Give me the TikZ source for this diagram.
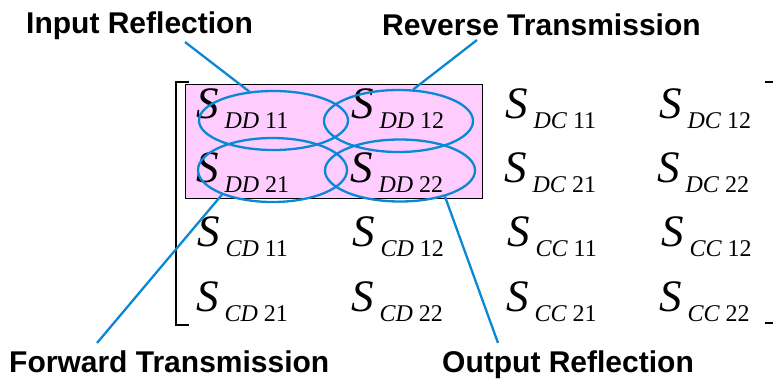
\documentclass[tikz,border=0pt]{standalone}
\usepackage{fontspec}
\setmainfont{Liberation Serif}
\newfontfamily\labfont{Liberation Sans}
\usetikzlibrary{shapes.geometric}
\definecolor{linkblue}{RGB}{10,136,212}
\definecolor{boxpink}{RGB}{255,204,255}
\newcommand\Sent[2]{{\fontsize{45}{45}\selectfont\itshape S}\kern6pt\raisebox{-10.5pt}{\fontsize{24}{24}\selectfont\textit{#1}\ #2}}
\tikzset{
  entry/.style={anchor=base west,inner sep=0pt,outer sep=0pt},
  lab/.style={anchor=base west,inner sep=0pt,font=\labfont\bfseries\fontsize{30}{36}\selectfont},
  ring/.style={ellipse,draw=linkblue,line width=2.3pt,inner sep=0pt},
  link/.style={draw=linkblue,line width=2.3pt},
  brack/.style={draw=black,line width=1.3pt}
}
\begin{document}
\begin{tikzpicture}[x=1pt,y=-1pt]
\useasboundingbox (0,0) rectangle (773,378);
% pink block
\node[draw=black,fill=boxpink,line width=0.9pt,inner sep=0pt,minimum width=297pt,minimum height=114pt,anchor=north west] (blk) at (185,84) {};
% brackets
\draw[brack] (189,82) -- (176,82) -- (176,325) -- (189,325);
\draw[brack] (765,82) -- (773,82);
\draw[brack] (765,323) -- (773,323);
% entries
\node[entry] (s11) at (196,118) {\Sent{DD}{11}};
\node[entry] (s12) at (351,118) {\Sent{DD}{12}};
\node[entry] (s13) at (505,118) {\Sent{DC}{11}};
\node[entry] (s14) at (659,118) {\Sent{DC}{12}};
\node[entry] (s21) at (196,182) {\Sent{DD}{21}};
\node[entry] (s22) at (350,182) {\Sent{DD}{22}};
\node[entry] (s23) at (504,182) {\Sent{DC}{21}};
\node[entry] (s24) at (657,182) {\Sent{DC}{22}};
\node[entry] (s31) at (197,246) {\Sent{CD}{11}};
\node[entry] (s32) at (352,246) {\Sent{CD}{12}};
\node[entry] (s33) at (507,246) {\Sent{CC}{11}};
\node[entry] (s34) at (661,246) {\Sent{CC}{12}};
\node[entry] (s41) at (196,311) {\Sent{CD}{21}};
\node[entry] (s42) at (351,311) {\Sent{CD}{22}};
\node[entry] (s43) at (506,311) {\Sent{CC}{21}};
\node[entry] (s44) at (659,311) {\Sent{CC}{22}};
% ellipses
\node[ring,minimum width=149pt,minimum height=59pt] (e11) at (273.5,120.5) {};
\node[ring,minimum width=149pt,minimum height=62pt] (e12) at (398.5,121) {};
\node[ring,minimum width=149pt,minimum height=64pt] (e21) at (272.5,170) {};
\node[ring,minimum width=150pt,minimum height=62pt] (e22) at (400,170.5) {};
% labels
\node[lab] (lin) at (26,33) {Input Reflection};
\node[lab] (lrev) at (382,35) {Reverse Transmission};
\node[lab] (lfwd) at (9,372) {Forward Transmission};
\node[lab] (lout) at (442,372) {Output Reflection};
% connector ends at labels
\coordinate (cin) at (185,42);
\coordinate (crev) at (477,40);
\coordinate (cfwd) at (97,343);
\coordinate (cout) at (498,343);
% connectors
\draw[link] (cin) -- (e11.130.5);
\draw[link] (crev) -- (e12.65.8);
\draw[link] (cfwd) -- (e21.206.3);
\draw[link] (cout) -- (e22.-30.7);
\end{tikzpicture}
\end{document}
